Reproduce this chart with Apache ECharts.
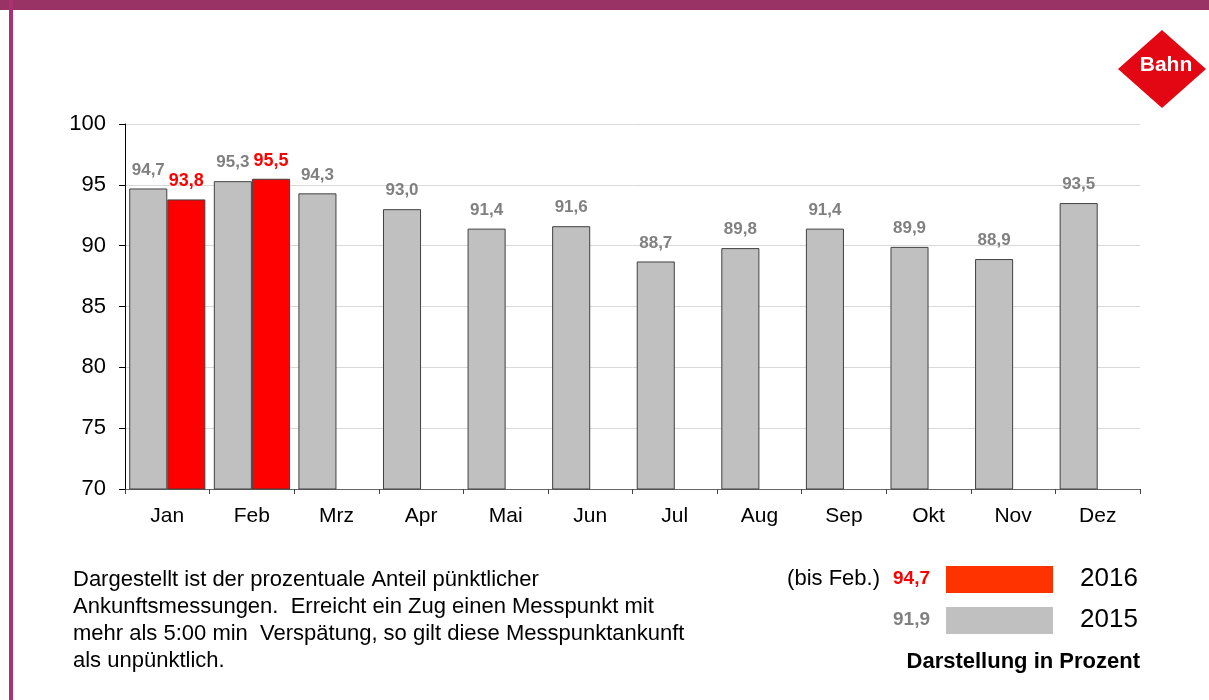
<!DOCTYPE html>
<html>
<head>
<meta charset="utf-8">
<script src="https://cdn.jsdelivr.net/npm/echarts@6/dist/echarts.min.js"></script>
<style>
  html, body { margin: 0; padding: 0; background: #fff; }
  #chart { width: 1209px; height: 700px; }
</style>
</head>
<body>
<div id="chart"></div>
<script>
// Pünktlichkeit je Monat
var months = ['Jan', 'Feb', 'Mrz', 'Apr', 'Mai', 'Jun', 'Jul', 'Aug', 'Sep', 'Okt', 'Nov', 'Dez'];
var values2015 = [94.7, 95.3, 94.3, 93.0, 91.4, 91.6, 88.7, 89.8, 91.4, 89.9, 88.9, 93.5];
var values2016 = [93.8, 95.5, null, null, null, null, null, null, null, null, null, null];
var yTicks = [70, 75, 80, 85, 90, 95, 100];
var avg2016 = 94.7;
var avg2015 = 91.9;

var sans = '"Liberation Sans", Arial, sans-serif';

function fmt(v) {
  return v.toFixed(1).replace('.', ',');
}

var chart = echarts.init(document.getElementById('chart'));
chart.setOption({
  animation: false,
  grid: { left: 125, right: 69, top: 124, bottom: 211, containLabel: false },
  xAxis: {
    type: 'category',
    data: months,
    axisLine: { lineStyle: { color: '#666', width: 1 } },
    axisTick: { show: true, length: 5, lineStyle: { color: '#444' } },
    axisLabel: { color: '#000', fontSize: 21, fontFamily: sans, margin: 17 }
  },
  yAxis: {
    type: 'value',
    min: yTicks[0],
    max: yTicks[yTicks.length - 1],
    interval: 5,
    axisLine: { show: true, lineStyle: { color: '#000', width: 1 } },
    axisTick: { show: true, length: 6, lineStyle: { color: '#000' } },
    axisLabel: { color: '#000', fontSize: 22, fontFamily: sans, margin: 19 },
    splitLine: { lineStyle: { color: '#d9d9d9', width: 1 } }
  },
  series: [
    {
      name: '2015',
      type: 'bar',
      data: values2015,
      barGap: '0%',
      barCategoryGap: '10%',
      itemStyle: { color: '#c0c0c0', borderColor: '#404040', borderWidth: 1 },
      label: {
        show: true, position: 'top', distance: 10,
        color: '#808080', fontSize: 17, fontWeight: 'bold', fontFamily: sans,
        formatter: function (p) { return fmt(p.value); }
      }
    },
    {
      name: '2016',
      type: 'bar',
      data: values2016,
      itemStyle: { color: '#ff0000', borderColor: '#404040', borderWidth: 1 },
      label: {
        show: true, position: 'top', distance: 9,
        color: '#ff0000', fontSize: 18, fontWeight: 'bold', fontFamily: sans,
        formatter: function (p) { return fmt(p.value); }
      }
    }
  ],
  graphic: [
    // Rahmen
    { type: 'rect', shape: { x: 0, y: 0, width: 1209, height: 10 }, style: { fill: '#993366' } },
    { type: 'rect', shape: { x: 9, y: 0, width: 4, height: 700 }, style: { fill: '#a8336f' } },
    // Bahn-Logo
    { type: 'polygon', shape: { points: [[1162, 30], [1206, 69], [1162, 108], [1118, 69]] }, style: { fill: '#e30613' } },
    { type: 'text', x: 1166, y: 65, style: { text: 'Bahn', fill: '#fff', font: 'bold 21px ' + sans, textAlign: 'center', textVerticalAlign: 'middle' } },
    // Fußnote
    { type: 'text', left: 73, top: 566, style: {
        text: 'Dargestellt ist der prozentuale Anteil pünktlicher\nAnkunftsmessungen.  Erreicht ein Zug einen Messpunkt mit\nmehr als 5:00 min  Verspätung, so gilt diese Messpunktankunft\nals unpünktlich.',
        fill: '#000', font: '22px ' + sans, lineHeight: 27 } },
    // Legende
    { type: 'text', x: 880, y: 579, style: { text: '(bis Feb.)', fill: '#000', font: '22px ' + sans, textAlign: 'right', textVerticalAlign: 'middle' } },
    { type: 'text', x: 930, y: 579, style: { text: fmt(avg2016), fill: '#ff0000', font: 'bold 19px ' + sans, textAlign: 'right', textVerticalAlign: 'middle' } },
    { type: 'rect', shape: { x: 946, y: 566, width: 107, height: 27 }, style: { fill: '#ff3300' } },
    { type: 'text', x: 1080, y: 579, style: { text: '2016', fill: '#000', font: '26px ' + sans, textVerticalAlign: 'middle' } },
    { type: 'text', x: 930, y: 620, style: { text: fmt(avg2015), fill: '#808080', font: 'bold 19px ' + sans, textAlign: 'right', textVerticalAlign: 'middle' } },
    { type: 'rect', shape: { x: 946, y: 607, width: 107, height: 27 }, style: { fill: '#c0c0c0' } },
    { type: 'text', x: 1080, y: 620, style: { text: '2015', fill: '#000', font: '26px ' + sans, textVerticalAlign: 'middle' } },
    { type: 'text', x: 1140, y: 662, style: { text: 'Darstellung in Prozent', fill: '#000', font: 'bold 22px ' + sans, textAlign: 'right', textVerticalAlign: 'middle' } }
  ]
});
</script>
</body>
</html>
